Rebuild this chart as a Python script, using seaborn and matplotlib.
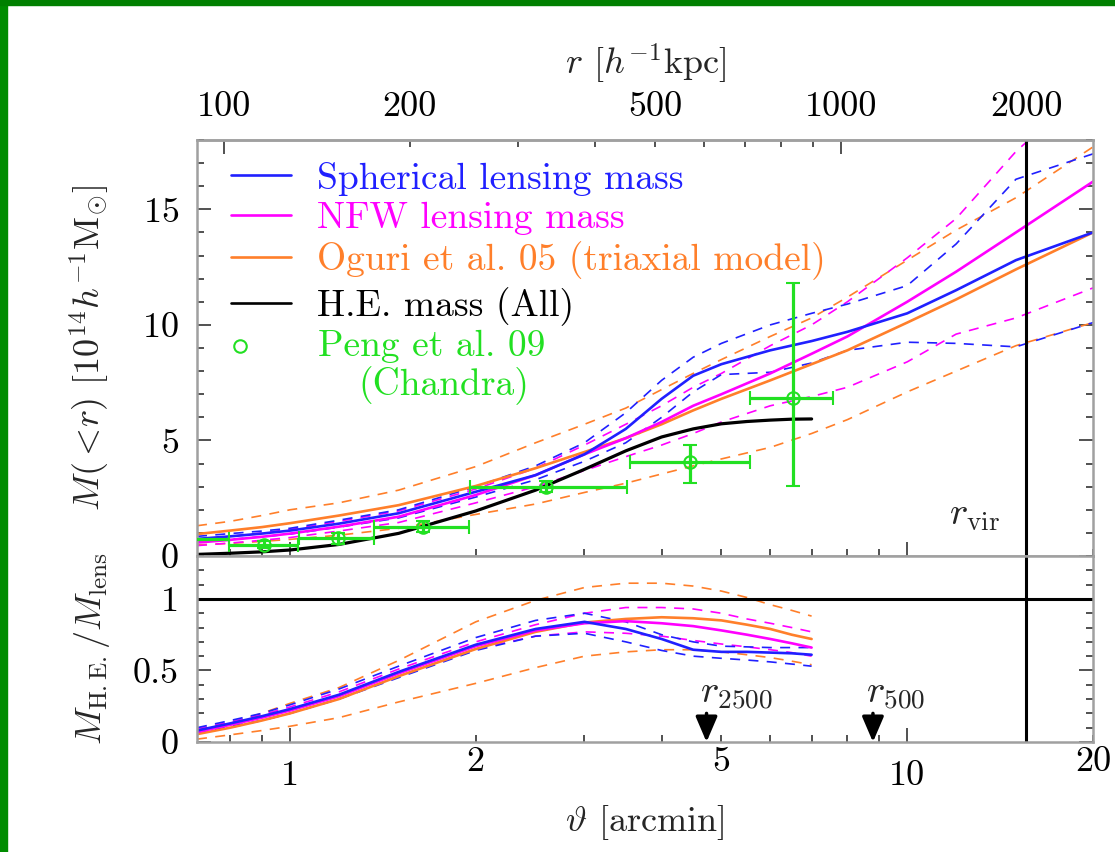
"""
Mass profile comparison: lensing vs. hydrostatic-equilibrium mass,
with the H.E./lensing mass ratio in a lower panel.
"""

import numpy as np
import matplotlib
matplotlib.use("Agg")
import matplotlib.pyplot as plt
import matplotlib.ticker as mticker
from matplotlib.lines import Line2D
from matplotlib.patches import Rectangle
import seaborn as sns

sns.set_style("ticks")
plt.rcParams.update({
    "font.family": "serif",
    "font.serif": ["cmr10"],
    "mathtext.fontset": "cm",
    "axes.formatter.use_mathtext": True,
    "axes.unicode_minus": False,
})

BLUE = "#2020ff"
MAGENTA = "#ff00ff"
ORANGE = "#ff7f2a"
GREEN = "#22e022"
SPINE = "#a0a0a0"
FS = 26
FS_LEG = 27

KPC_PER_ARCMIN = 128.0
THETA_VIR = 15.6
THETA_2500 = 4.73
THETA_500 = 8.8

# ---- top panel: cumulative mass M(<r) [1e14 h^-1 Msun] ----
theta = [0.707, 0.8, 0.9, 1.0, 1.2, 1.5, 2.0, 2.5, 3.0, 3.5,
         4.0, 4.5, 5.0, 6.0, 7.0, 8.0, 10.0, 12.0, 15.0, 20.0]
m_sph = [0.74, 0.85, 0.97, 1.1, 1.4, 1.85, 2.78, 3.5, 4.4, 5.5,
         6.8, 7.8, 8.3, 8.9, 9.3, 9.7, 10.5, 11.5, 12.8, 14.0]
m_sph_hi = [0.85, 0.97, 1.08, 1.2, 1.55, 2.0, 3.0, 3.9, 4.9, 6.2,
            7.6, 8.6, 9.2, 10.0, 10.5, 10.9, 11.7, 13.5, 16.3, 17.4]
m_sph_lo = [0.62, 0.72, 0.83, 0.95, 1.25, 1.65, 2.55, 3.3, 4.1, 4.9,
            6.0, 7.1, 7.85, 7.95, 8.35, 8.9, 9.25, 9.2, 9.05, 10.1]
m_nfw = [0.58, 0.7, 0.83, 0.97, 1.27, 1.7, 2.64, 3.5, 4.4, 5.1,
         5.8, 6.5, 7.0, 7.9, 8.75, 9.5, 11.0, 12.3, 14.0, 16.2]
m_nfw_hi = [0.72, 0.85, 1.0, 1.15, 1.5, 1.95, 2.9, 3.8, 4.8, 5.7,
            6.5, 7.3, 7.9, 9.1, 10.0, 11.0, 12.9, 14.6, 17.5, 20.5]
m_nfw_lo = [0.45, 0.56, 0.68, 0.8, 1.08, 1.45, 2.3, 3.0, 3.7, 4.3,
            4.8, 5.3, 5.8, 6.5, 6.9, 7.3, 8.4, 9.6, 10.3, 11.6]
m_ogu = [0.95, 1.1, 1.25, 1.42, 1.75, 2.2, 3.03, 3.8, 4.5, 5.1,
         5.7, 6.3, 6.8, 7.6, 8.3, 8.9, 10.1, 11.1, 12.4, 14.0]
m_ogu_hi = [1.31, 1.5, 1.75, 2.0, 2.3, 2.85, 3.87, 4.9, 5.7, 6.4,
            7.2, 7.9, 8.5, 9.5, 10.3, 11.2, 12.8, 14.1, 15.5, 17.7]
m_ogu_lo = [0.48, 0.55, 0.63, 0.72, 0.9, 1.2, 1.8, 2.25, 2.75, 3.15,
            3.55, 3.9, 4.2, 4.7, 5.3, 5.9, 7.1, 8.0, 9.1, 10.1]

# ---- H.E. mass and mass ratios (shorter radial range) ----
theta_he = [0.707, 0.8, 0.9, 1.0, 1.2, 1.5, 2.0, 2.5, 3.0, 3.5,
            4.0, 4.5, 5.0, 5.5, 6.0, 6.5, 7.0]
m_he = [0.07, 0.12, 0.18, 0.26, 0.5, 0.98, 1.95, 2.85, 3.75, 4.55,
        5.15, 5.5, 5.72, 5.82, 5.88, 5.92, 5.93]

ratio_sph = [0.08, 0.13, 0.18, 0.23, 0.33, 0.49, 0.68, 0.79, 0.84, 0.79,
             0.72, 0.645, 0.63, 0.63, 0.625, 0.62, 0.61]
ratio_sph_hi = [0.1, 0.15, 0.2, 0.26, 0.37, 0.53, 0.73, 0.85, 0.9, 0.84,
                0.75, 0.7, 0.67, 0.665, 0.66, 0.66, 0.66]
ratio_sph_lo = [0.06, 0.11, 0.15, 0.2, 0.3, 0.45, 0.64, 0.74, 0.76, 0.7,
                0.64, 0.6, 0.585, 0.573, 0.56, 0.545, 0.53]
ratio_nfw = [0.07, 0.12, 0.17, 0.22, 0.32, 0.48, 0.67, 0.78, 0.83, 0.845,
             0.83, 0.81, 0.78, 0.75, 0.72, 0.69, 0.66]
ratio_nfw_hi = [0.09, 0.14, 0.19, 0.245, 0.35, 0.51, 0.7, 0.82, 0.9, 0.94,
                0.94, 0.93, 0.9, 0.86, 0.83, 0.8, 0.77]
ratio_nfw_lo = [0.06, 0.1, 0.15, 0.2, 0.3, 0.46, 0.65, 0.74, 0.77, 0.76,
                0.74, 0.71, 0.685, 0.665, 0.645, 0.625, 0.6]
ratio_ogu = [0.055, 0.1, 0.15, 0.2, 0.3, 0.46, 0.65, 0.77, 0.835, 0.86,
             0.872, 0.865, 0.85, 0.82, 0.79, 0.75, 0.72]
ratio_ogu_hi = [0.09, 0.135, 0.2, 0.27, 0.38, 0.57, 0.84, 0.99, 1.08, 1.11,
                1.11, 1.09, 1.055, 1.01, 0.96, 0.92, 0.88]
ratio_ogu_lo = [0.02, 0.05, 0.08, 0.11, 0.17, 0.28, 0.41, 0.52, 0.6, 0.63,
                0.645, 0.645, 0.63, 0.61, 0.59, 0.565, 0.54]

# ---- Peng et al. 09 (Chandra) ----
peng_theta = [0.66, 0.909, 1.195, 1.64, 2.60, 4.45, 6.54]
peng_theta_lo = [0.55, 0.797, 1.035, 1.37, 1.96, 3.55, 5.57]
peng_theta_hi = [0.797, 1.03, 1.37, 1.95, 3.52, 5.57, 7.58]
peng_m = [0.72, 0.48, 0.76, 1.27, 3.0, 4.07, 6.83]
peng_m_lo = [0.1, 0.15, 0.25, 0.25, 0.25, 0.9, 3.8]
peng_m_hi = [0.1, 0.15, 0.25, 0.25, 0.25, 0.75, 5.0]

DASH = (0, (6, 5))


def draw(ax, x, y, color, dashed=False, lw=None):
    sns.lineplot(x=x, y=y, ax=ax, color=color, sort=False, estimator=None,
                 linewidth=lw if lw else (1.2 if dashed else 1.9),
                 linestyle=DASH if dashed else "-")


fig = plt.figure(figsize=(11.15, 8.52), dpi=100)
ax_top = fig.add_axes([0.1767, 0.3474, 0.8036, 0.4883])
ax_bot = fig.add_axes([0.1767, 0.1291, 0.8036, 0.2183])

# green frame of the slide
fig.patches.append(Rectangle((0, 0), 7 / 1115, 1, transform=fig.transFigure,
                             color="#008c00", zorder=-1))
fig.patches.append(Rectangle((0, 1 - 5 / 852), 1, 5 / 852,
                             transform=fig.transFigure, color="#008000",
                             zorder=-1))

for ax in (ax_top, ax_bot):
    ax.set_xscale("log")

# top panel curves
for vals, c in [(m_ogu_hi, ORANGE), (m_ogu_lo, ORANGE),
                (m_nfw_hi, MAGENTA), (m_nfw_lo, MAGENTA),
                (m_sph_hi, BLUE), (m_sph_lo, BLUE)]:
    draw(ax_top, theta, vals, c, dashed=True)
for vals, c in [(m_ogu, ORANGE), (m_nfw, MAGENTA), (m_sph, BLUE)]:
    draw(ax_top, theta, vals, c)
draw(ax_top, theta_he, m_he, "black", lw=2.3)

xerr = [np.array(peng_theta) - np.array(peng_theta_lo),
        np.array(peng_theta_hi) - np.array(peng_theta)]
ax_top.errorbar(peng_theta, peng_m, xerr=xerr, yerr=[peng_m_lo, peng_m_hi],
                fmt="o", mfc="none", mec=GREEN, ms=9, mew=1.5,
                ecolor=GREEN, elinewidth=2.3, capsize=5, capthick=2.3,
                zorder=5)

# lower panel curves
for vals, c in [(ratio_ogu_hi, ORANGE), (ratio_ogu_lo, ORANGE),
                (ratio_nfw_hi, MAGENTA), (ratio_nfw_lo, MAGENTA),
                (ratio_sph_hi, BLUE), (ratio_sph_lo, BLUE)]:
    draw(ax_bot, theta_he, vals, c, dashed=True)
for vals, c in [(ratio_ogu, ORANGE), (ratio_nfw, MAGENTA), (ratio_sph, BLUE)]:
    draw(ax_bot, theta_he, vals, c)

ax_bot.axhline(1.0, color="black", lw=2.2)
for ax in (ax_top, ax_bot):
    ax.axvline(THETA_VIR, color="black", lw=2.2)

# axes limits and ticks
fmt_x = mticker.FuncFormatter(lambda v, _: f"{v:g}")
fmt_x_minor = mticker.FuncFormatter(
    lambda v, _: f"{v:g}" if round(v, 3) in (2, 5, 20) else "")
for ax in (ax_top, ax_bot):
    ax.set_xlim(0.707, 20)
    ax.xaxis.set_major_locator(mticker.FixedLocator([1, 10]))
    ax.xaxis.set_minor_locator(mticker.FixedLocator(
        [0.8, 0.9, 2, 3, 4, 5, 6, 7, 8, 9, 20]))
    ax.xaxis.set_major_formatter(fmt_x)
    ax.xaxis.set_minor_formatter(fmt_x_minor)
    ax.tick_params(which="both", direction="in", right=True, colors="#222222",
                   labelsize=FS, width=1.1, labelcolor="black")
    ax.tick_params(which="major", length=10)
    ax.tick_params(which="minor", length=5)
    ax.tick_params(axis="y", pad=13)
    ax.tick_params(axis="x", pad=13)
    for s in ax.spines.values():
        s.set_color(SPINE)
        s.set_linewidth(1.8)

ax_top.tick_params(which="both", top=False, labelbottom=False)
ax_bot.tick_params(which="both", top=False)

ax_top.set_ylim(0, 18)
ax_top.yaxis.set_major_locator(mticker.MultipleLocator(5))
ax_top.yaxis.set_minor_locator(mticker.MultipleLocator(1))
ax_bot.set_ylim(0, 1.3)
ax_bot.yaxis.set_major_locator(mticker.FixedLocator([0, 0.5, 1]))
ax_bot.yaxis.set_major_formatter(mticker.FuncFormatter(lambda v, _: f"{v:g}"))
ax_bot.yaxis.set_minor_locator(mticker.MultipleLocator(0.1))

# secondary axis in physical radius
sec = ax_top.secondary_xaxis("top", functions=(lambda t: t * KPC_PER_ARCMIN,
                                               lambda r: r / KPC_PER_ARCMIN))
sec.xaxis.set_major_locator(mticker.FixedLocator([100, 1000]))
sec.xaxis.set_minor_locator(mticker.FixedLocator(
    [200, 300, 400, 500, 600, 700, 800, 900, 2000]))
sec.xaxis.set_major_formatter(fmt_x)
sec.xaxis.set_minor_formatter(mticker.FuncFormatter(
    lambda v, _: f"{v:g}" if round(v) in (200, 500, 2000) else ""))
sec.tick_params(which="both", direction="in", colors="#222222", labelsize=FS,
                width=1.1, pad=12, labelcolor="black")
sec.tick_params(which="major", length=10)
sec.tick_params(which="minor", length=5)
sec.spines["top"].set_color(SPINE)
sec.spines["top"].set_linewidth(1.8)
sec.set_xlabel(r"$r$ [$h^{-1}$kpc]", fontsize=FS, labelpad=12)

ax_bot.set_xlabel(r"$\vartheta$ [arcmin]", fontsize=FS, labelpad=8)
ax_top.set_ylabel(r"$M(<\!r)$ [$10^{14}h^{-1}{\rm M}_{\odot}$]", fontsize=FS)
ax_bot.set_ylabel(r"$M_{\rm H.E.}/M_{\rm lens}$", fontsize=FS)
ax_top.yaxis.set_label_coords(-0.095, 0.5)
ax_bot.yaxis.set_label_coords(-0.095, 0.5)

# annotations
ax_top.text(11.7, 1.35, r"$r_{\rm vir}$", fontsize=FS + 2, ha="left",
            va="baseline")
for th, lab in [(THETA_2500, r"$r_{2500}$"), (THETA_500, r"$r_{500}$")]:
    ax_bot.annotate("", xy=(th, 0.0), xytext=(th, 0.2),
                    arrowprops=dict(arrowstyle="-|>,head_length=0.7,head_width=0.3",
                                    color="black", lw=2.5, mutation_scale=22,
                                    shrinkA=0, shrinkB=0))
    ax_bot.text(th * 0.975, 0.27, lab, fontsize=FS + 2, ha="left",
                va="baseline")

# legend (model curves) and the Chandra entry placed by hand
handles = [Line2D([], [], color=BLUE, lw=1.9),
           Line2D([], [], color=MAGENTA, lw=1.9),
           Line2D([], [], color=ORANGE, lw=1.9),
           Line2D([], [], color="black", lw=1.9)]
labels = ["Spherical lensing mass", "NFW lensing mass",
          "Oguri et al. 05 (triaxial model)", "H.E. mass (All)"]
leg = ax_top.legend(handles, labels, loc="upper left",
                    bbox_to_anchor=(0.038, 0.948), frameon=False,
                    fontsize=FS_LEG, handlelength=1.6, handletextpad=0.7,
                    labelspacing=0.17, borderaxespad=0, borderpad=0)
for t, c in zip(leg.get_texts(), [BLUE, MAGENTA, ORANGE, "black"]):
    t.set_color(c)
ax_top.plot([0.048], [0.505], "o", mfc="none", mec=GREEN, ms=9, mew=1.5,
            transform=ax_top.transAxes)
ax_top.text(0.135, 0.503, "Peng et al. 09", transform=ax_top.transAxes,
            fontsize=FS_LEG, color=GREEN, ha="left", va="center")
ax_top.text(0.18, 0.41, "(Chandra)", transform=ax_top.transAxes,
            fontsize=FS_LEG, color=GREEN, ha="left", va="center")

fig.savefig("out.png", dpi=100)
